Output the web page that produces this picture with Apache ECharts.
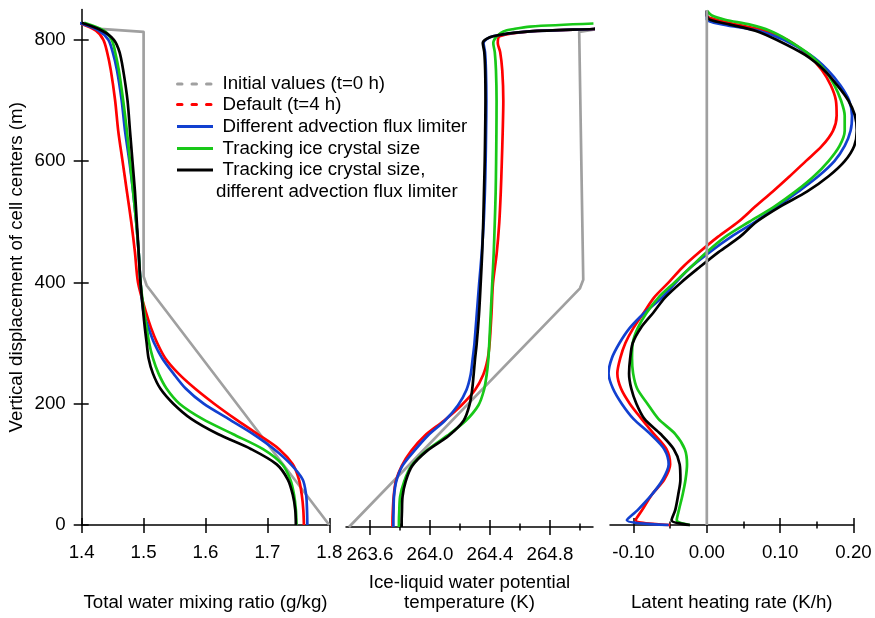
<!DOCTYPE html>
<html>
<head>
<meta charset="utf-8">
<title>Profiles</title>
<script src="https://cdn.jsdelivr.net/npm/echarts@6/dist/echarts.min.js"></script>
<style>
html, body { margin: 0; padding: 0; background: #fff; }
#chart { width: 875px; height: 618px; }
</style>
</head>
<body>
<div id="chart"></div>
<script>
// series names (legend order)
const seriesNames = [
    'Initial values (t=0 h)',
    'Default (t=4 h)',
    'Different advection flux limiter',
    'Tracking ice crystal size',
    'Tracking ice crystal size,'
];
const legendExtraLine = 'different advection flux limiter';

// ---- panel 1: total water mixing ratio (g/kg) ----
const zQt = [0, 25, 50, 75, 100, 125, 150, 175, 200, 225, 250, 275, 300, 325, 350,
    400, 450, 500, 550, 600, 650, 700, 750, 780, 800, 815, 828];
const qtDefault = [1.759, 1.758, 1.7555, 1.751, 1.741, 1.719, 1.684, 1.648, 1.614, 1.583, 1.556, 1.535, 1.522, 1.512, 1.504,
    1.491, 1.486, 1.480, 1.473, 1.466, 1.459, 1.454, 1.447, 1.441, 1.435, 1.423, 1.395];
const qtFlux = [1.7645, 1.764, 1.7625, 1.757, 1.738, 1.711, 1.677, 1.637, 1.597, 1.568, 1.548, 1.530, 1.517, 1.508, 1.500,
    1.495, 1.492, 1.488, 1.483, 1.477, 1.470, 1.4646, 1.457, 1.450, 1.443, 1.428, 1.396];
const qtIce = [1.747, 1.746, 1.743, 1.737, 1.724, 1.693, 1.644, 1.595, 1.558, 1.537, 1.524, 1.515, 1.509, 1.505, 1.501,
    1.495, 1.492, 1.488, 1.483, 1.478, 1.473, 1.467, 1.460, 1.454, 1.4485, 1.436, 1.404];
const qtIceFlux = [1.746, 1.745, 1.741, 1.733, 1.715, 1.674, 1.620, 1.577, 1.548, 1.527, 1.515, 1.508, 1.505, 1.502, 1.4995,
    1.495, 1.492, 1.489, 1.486, 1.482, 1.478, 1.474, 1.467, 1.461, 1.452, 1.433, 1.400];
const zQtInit = [0, 395, 410, 813, 818, 826];
const qtInit = [1.8, 1.505, 1.5, 1.5, 1.43, 1.4];

// ---- panel 2: ice-liquid water potential temperature (K) ----
const zTh = [0, 10, 25, 50, 75, 100, 125, 150, 175, 200, 225, 250, 275, 300, 350, 400, 450, 500, 550, 600,
    650, 700, 750, 780, 795, 806, 814, 818, 822, 827];
const thDefault = [263.750, 263.750, 263.752, 263.758, 263.772, 263.811, 263.875, 263.965, 264.095, 264.210,
    264.300, 264.355, 264.384, 264.397, 264.410, 264.420, 264.445, 264.462, 264.472, 264.479,
    264.485, 264.489, 264.482, 264.468, 264.452, 264.465, 264.667, 265.090, 265.500, 266.000];
const thFlux = [263.756, 263.756, 263.757, 263.760, 263.775, 263.815, 263.895, 263.985, 264.100, 264.187,
    264.243, 264.271, 264.284, 264.296, 264.312, 264.328, 264.345, 264.358, 264.366, 264.371,
    264.374, 264.376, 264.373, 264.367, 264.357, 264.420, 264.667, 265.090, 265.500, 266.000];
const thIce = [263.793, 263.793, 263.795, 263.801, 263.828, 263.875, 263.975, 264.115, 264.240, 264.323,
    264.360, 264.378, 264.389, 264.395, 264.405, 264.415, 264.425, 264.432, 264.438, 264.441,
    264.443, 264.444, 264.440, 264.432, 264.422, 264.445, 264.490, 264.560, 264.667, 265.090];
const thIceFlux = [263.811, 263.811, 263.813, 263.817, 263.838, 263.880, 263.980, 264.125, 264.225, 264.263,
    264.281, 264.291, 264.300, 264.311, 264.327, 264.338, 264.348, 264.355, 264.360, 264.365,
    264.368, 264.370, 264.368, 264.362, 264.352, 264.420, 264.667, 265.090, 265.500, 266.000];
const zThInit = [0, 392, 406, 813, 817, 822];
const thInit = [263.46, 265.0, 265.022, 264.995, 265.09, 265.5];

// ---- panel 3: latent heating rate (K/h) ----
const zLh = [0, 8, 25, 50, 75, 100, 125, 150, 175, 200, 225, 250, 275, 300, 325, 350, 375, 400, 425, 450,
    475, 500, 525, 550, 575, 600, 625, 650, 675, 700, 725, 750, 775, 800, 815, 825, 833, 840, 848];
const lhDefault = [-0.050, -0.097, -0.088, -0.075, -0.058, -0.050, -0.055, -0.072, -0.089, -0.105,
    -0.117, -0.122, -0.118, -0.111, -0.100, -0.086, -0.072, -0.052, -0.033, -0.010,
    0.015, 0.043, 0.066, 0.090, 0.113, 0.135, 0.157, 0.172, 0.177, 0.176,
    0.169, 0.157, 0.138, 0.110, 0.079, 0.041, 0.013, 0.000, 0.000];
const lhFlux = [-0.052, -0.109, -0.094, -0.075, -0.060, -0.052, -0.058, -0.077, -0.100, -0.116,
    -0.128, -0.134, -0.1295, -0.119, -0.105, -0.085, -0.061, -0.042, -0.022, 0.004,
    0.033, 0.066, 0.096, 0.125, 0.152, 0.174, 0.188, 0.196, 0.198, 0.194,
    0.182, 0.165, 0.141, 0.105, 0.070, 0.023, 0.000, 0.000, 0.000];
const lhIce = [-0.023, -0.041, -0.038, -0.033, -0.029, -0.027, -0.030, -0.043, -0.066, -0.081,
    -0.095, -0.1005, -0.102, -0.101, -0.094, -0.082, -0.066, -0.044, -0.022, 0.000,
    0.025, 0.058, 0.092, 0.121, 0.146, 0.166, 0.181, 0.188, 0.188, 0.183,
    0.174, 0.161, 0.141, 0.110, 0.086, 0.059, 0.025, 0.007, 0.000];
const lhIceFlux = [-0.023, -0.048, -0.043, -0.039, -0.036, -0.037, -0.045, -0.063, -0.085, -0.096,
    -0.103, -0.106, -0.1045, -0.101, -0.090, -0.073, -0.057, -0.035, -0.010, 0.016,
    0.045, 0.068, 0.100, 0.137, 0.166, 0.188, 0.201, 0.2045, 0.202, 0.193,
    0.178, 0.160, 0.134, 0.095, 0.066, 0.032, 0.0045, 0.000, 0.000];
const zLhInit = [0, 849];
const lhInit = [0, 0];

// tick values
const yTicks = [0, 200, 400, 600, 800];
const qtTicks = [1.4, 1.5, 1.6, 1.7, 1.8];
const thTicks = [263.6, 264.0, 264.4, 264.8];
const thMinor = [263.8, 264.2, 264.6, 265.0];
const lhTicks = [-0.1, 0, 0.1, 0.2];
const lhMinor = [-0.05, 0.05, 0.15];

const colors = ['#a0a0a0', '#ff0000', '#1240d0', '#18c818', '#000000'];
const font = '"Liberation Sans", Arial, sans-serif';
const fs = 18.7;
const ink = '#000';
const tickLine = { color: ink, width: 1.5 };
const nameStyle = { color: ink, fontSize: fs, fontFamily: font, verticalAlign: 'middle', lineHeight: 20 };

// x axes of one panel: labelled axis + extra axes for ticks that cross the line
function bottomAxes(grid, min, max, major, minor, digits, name, nameGap) {
    const base = { gridIndex: grid, type: 'value', min: min, max: max, position: 'bottom', splitLine: { show: false } };
    const list = [
        Object.assign({}, base, {
            axisLine: { show: true, onZero: false, lineStyle: tickLine },
            axisTick: { show: true, customValues: major, length: 8, lineStyle: tickLine },
            axisLabel: {
                customValues: major, margin: 18, color: ink, fontSize: fs, fontFamily: font,
                formatter: function (v) { return v.toFixed(digits); }
            },
            name: name, nameLocation: 'middle', nameGap: nameGap, nameTextStyle: nameStyle
        }),
        Object.assign({}, base, {
            axisLine: { show: false },
            axisTick: { show: true, inside: true, customValues: major, length: 7, lineStyle: tickLine },
            axisLabel: { show: false }
        })
    ];
    if (minor.length) {
        list.push(Object.assign({}, base, {
            axisLine: { show: false },
            axisTick: { show: true, customValues: minor, length: 3.5, lineStyle: tickLine },
            axisLabel: { show: false }
        }));
        list.push(Object.assign({}, base, {
            axisLine: { show: false },
            axisTick: { show: true, inside: true, customValues: minor, length: 3.5, lineStyle: tickLine },
            axisLabel: { show: false }
        }));
    }
    return list;
}

const xAxes = [];
const xMain = [];
[
    bottomAxes(0, 1.4, 1.8, qtTicks, [], 1, 'Total water mixing ratio (g/kg)', 78),
    bottomAxes(1, 263.44, 265.087, thTicks, thMinor, 1, 'Ice-liquid water potential\ntemperature (K)', 66),
    bottomAxes(2, -0.132, 0.2, lhTicks, lhMinor, 2, 'Latent heating rate (K/h)', 78)
].forEach(function (list) {
    xMain.push(xAxes.length);
    list.forEach(function (a) { xAxes.push(a); });
});

const yBase = { type: 'value', min: 0, max: 850, splitLine: { show: false } };
const yAxes = [
    Object.assign({}, yBase, {
        gridIndex: 0, position: 'left',
        axisLine: { show: true, onZero: false, lineStyle: tickLine },
        axisTick: { show: true, customValues: yTicks, length: 8, lineStyle: tickLine },
        axisLabel: { customValues: yTicks, margin: 16, color: ink, fontSize: fs, fontFamily: font },
        name: 'Vertical displacement of cell centers (m)', nameLocation: 'middle', nameGap: 65,
        nameTextStyle: nameStyle
    }),
    Object.assign({}, yBase, {
        gridIndex: 0, position: 'left',
        axisLine: { show: false },
        axisTick: { show: true, inside: true, customValues: yTicks, length: 7, lineStyle: tickLine },
        axisLabel: { show: false }
    }),
    Object.assign({}, yBase, { gridIndex: 1, show: false }),
    Object.assign({}, yBase, { gridIndex: 2, show: false })
];
const yMain = [0, 2, 3];

function curve(panel, k, xs, zs, z) {
    return {
        type: 'line',
        name: seriesNames[k],
        xAxisIndex: xMain[panel],
        yAxisIndex: yMain[panel],
        data: zs.map(function (h, i) { return [xs[i], h]; }),
        symbol: 'none',
        smooth: k === 0 ? false : 0.3,
        clip: panel !== 2, // heating-rate peak runs a little past the axis end
        z: z,
        lineStyle: { color: colors[k], width: 2.7, join: 'round' },
        silent: true
    };
}

const series = [
    curve(0, 0, qtInit, zQtInit, 2),
    curve(0, 1, qtDefault, zQt, 3),
    curve(0, 2, qtFlux, zQt, 3),
    curve(0, 3, qtIce, zQt, 3),
    curve(0, 4, qtIceFlux, zQt, 3),
    curve(1, 0, thInit, zThInit, 2),
    curve(1, 1, thDefault, zTh, 3),
    curve(1, 2, thFlux, zTh, 3),
    curve(1, 3, thIce, zTh, 3),
    curve(1, 4, thIceFlux, zTh, 3),
    curve(2, 1, lhDefault, zLh, 3),
    curve(2, 2, lhFlux, zLh, 3),
    curve(2, 3, lhIce, zLh, 3),
    curve(2, 4, lhIceFlux, zLh, 3),
    curve(2, 0, lhInit, zLhInit, 4)
];

// legend drawn by hand: dashed samples for the first two entries
const legendY = [84, 104.5, 126.5, 148.5, 170];
const legendGraphics = [];
seriesNames.forEach(function (n, k) {
    const dashed = k < 2;
    legendGraphics.push({
        type: 'line', silent: true,
        shape: dashed ? { x1: 177.5, y1: legendY[k], x2: 211.5, y2: legendY[k] }
                      : { x1: 177, y1: legendY[k], x2: 213, y2: legendY[k] },
        style: { stroke: colors[k], lineWidth: 3, lineDash: dashed ? [4.5, 10] : null, lineCap: dashed ? 'round' : 'butt' }
    });
    legendGraphics.push({
        type: 'text', silent: true, x: 222.5, y: legendY[k],
        style: { text: n, fill: ink, fontSize: fs, fontFamily: font, verticalAlign: 'middle' }
    });
});
legendGraphics.push({
    type: 'text', silent: true, x: 216, y: 191.5,
    style: { text: legendExtraLine, fill: ink, fontSize: fs, fontFamily: font, verticalAlign: 'middle' }
});

const myChart = echarts.init(document.getElementById('chart'), null, { renderer: 'canvas' });
myChart.setOption({
    animation: false,
    backgroundColor: '#fff',
    textStyle: { fontFamily: font },
    grid: [
        { left: 81.7, top: 9.5, width: 247.6, height: 518.5 },
        { left: 346, top: 9.5, width: 247, height: 518.5 },
        { left: 610, top: 9.5, width: 243.5, height: 518.5 }
    ],
    xAxis: xAxes,
    yAxis: yAxes,
    series: series,
    graphic: legendGraphics
});
</script>
</body>
</html>
